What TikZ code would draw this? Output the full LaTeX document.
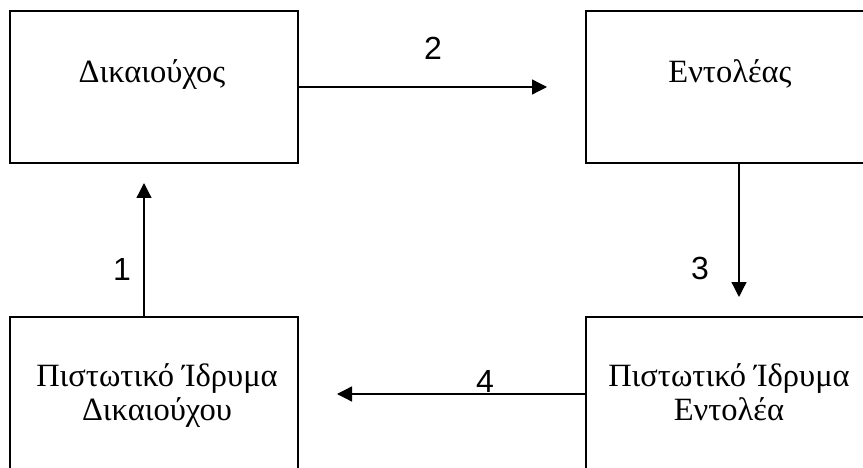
\documentclass[tikz,border=0pt]{standalone}
\usepackage{fontspec}
\setmainfont{Liberation Serif}
\newfontfamily\arialf{Liberation Sans}
\usetikzlibrary{arrows.meta}
\begin{document}
\begin{tikzpicture}[x=1pt,y=-1pt,
  box/.style={draw=black,line width=1.8pt,minimum width=288pt,minimum height=152pt,inner sep=0pt},
  boxtext/.style={font=\fontsize{32.5}{34}\selectfont,align=center,anchor=base,inner sep=0pt},
  num/.style={font=\arialf\fontsize{32}{34}\selectfont,inner sep=0pt},
  arr/.style={line width=1.3pt,-{Triangle[length=15pt,width=15pt]}}]
\useasboundingbox (0,0) rectangle (863,468);
\clip (0,0) rectangle (863,468);
\node[box] (TL) at (154,87) {};
\node[box] (TR) at (730,87) {};
\node[box] (BL) at (154,393) {};
\node[box] (BR) at (730,393) {};
\node[boxtext] (TLt) at (152,83) {Δικαιούχος};
\node[boxtext] (TRt) at (730,83) {Εντολέας};
\node[boxtext,anchor=north] (BLt) at (157,363) {Πιστωτικό Ίδρυμα\\Δικαιούχου};
\node[boxtext,anchor=north] (BRt) at (729,363) {Πιστωτικό Ίδρυμα\\Εντολέα};
\coordinate (a1s) at (144,317);
\coordinate (a1e) at (144,183);
\coordinate (a2e) at (547,87);
\coordinate (a3s) at (739,163);
\coordinate (a3e) at (739,297);
\coordinate (a4e) at (337,394);
\draw[arr] (BL.north -| a1s) -- (a1e);
\draw[arr] (TL.east) -- (a2e);
\draw[arr] (TR.south -| a3s) -- (a3e);
\draw[arr] (BR.west |- a4e) -- (a4e);
\node[num] (n1) at (122,269) {1};
\node[num] (n2) at (433,48) {2};
\node[num] (n3) at (700,268) {3};
\node[num] (n4) at (485,381) {4};
\end{tikzpicture}
\end{document}
